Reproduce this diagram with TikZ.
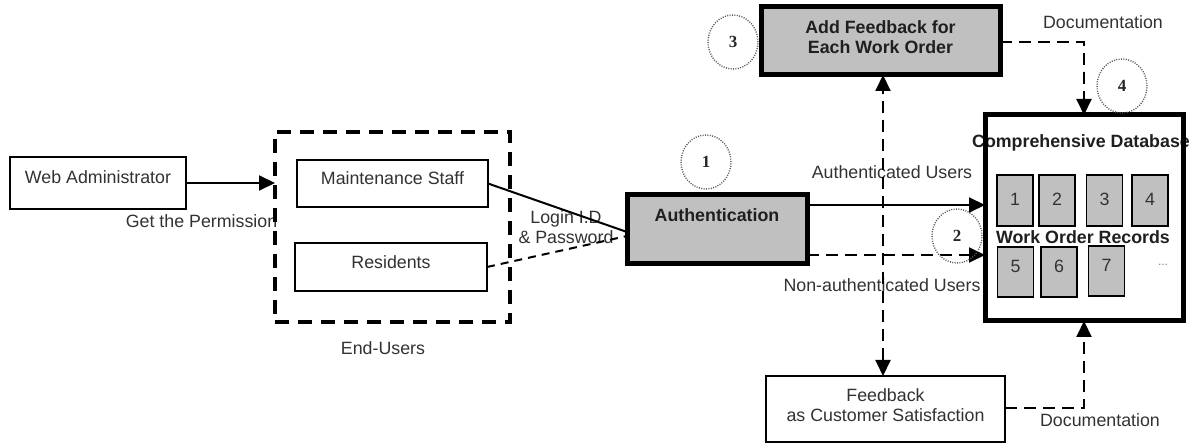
\documentclass[tikz,border=0pt]{standalone}
\usepackage{fontspec}
\setmainfont{Liberation Sans}
\newfontfamily\numfont{Liberation Serif}
\usetikzlibrary{arrows.meta,shapes.geometric,calc}
\definecolor{boxgray}{RGB}{192,192,192}
\definecolor{inkgray}{RGB}{50,50,50}
\definecolor{ringgray}{RGB}{85,85,85}

\begin{document}
\begin{tikzpicture}[x=1pt,y=-1pt,
  every node/.style={inner sep=0pt, outer sep=0pt},
  txt/.style={font=\fontsize{17.8}{20}\selectfont, text=inkgray, align=center},
  btxt/.style={font=\fontsize{17.8}{20}\selectfont\bfseries, text=black!88, align=center},
  plainbox/.style={draw, line width=2pt, fill=white},
  heavybox/.style={draw, line width=5pt, fill=boxgray},
  recbox/.style={draw, line width=1.8pt, fill=boxgray, minimum width=36pt},
  groupbox/.style={draw, line width=4pt, dash pattern=on 14pt off 9pt},
  ring/.style={draw=ringgray, ellipse, line width=1.4pt, dash pattern=on 1pt off 1.4pt,
    minimum width=50pt, minimum height=54pt, text=black!85,
    font=\numfont\bfseries\fontsize{17}{17}\selectfont},
  link/.style={line width=2pt},
  dlink/.style={line width=2pt, dash pattern=on 12pt off 7pt},
  tip/.style={-{Triangle[length=16pt,width=15pt]}},
  tips/.style={{Triangle[length=16pt,width=15pt]}-{Triangle[length=16pt,width=15pt]}},
]
\useasboundingbox (0,0) rectangle (1192,446);

% free-standing labels (lines and borders are drawn over them)
\node[txt] (permtxt) at (201.5,221) {Get the Permission};
\node[txt] (logintxt) at (566,227.5) {Login I.D\\\& Password};
\node[txt] (authtxt) at (892,172) {Authenticated Users};
\node[txt] (nonauthtxt) at (882,285) {Non-authenticated Users};
\node[btxt] (dbtxt) at (1081,143) {Comprehensive Database};
\node[btxt] (wortxt) at (1083,237) {Work Order Records};
\node[txt] (endtxt) at (383,348) {End-Users};
\node[txt] (doctop) at (1103,22) {Documentation};
\node[txt] (docbot) at (1100,420) {Documentation};

% actors and user group
\node[plainbox, minimum width=176pt, minimum height=52pt,
  label={[txt,yshift=6pt]center:Web Administrator}] (webadmin) at (98,183) {};
\node[groupbox, minimum width=235pt, minimum height=190pt] (endusers) at (392.5,227) {};
\node[plainbox, minimum width=191pt, minimum height=47pt,
  label={[txt,yshift=5.5pt]center:Maintenance Staff}] (staff) at (392.5,183.5) {};
\node[plainbox, minimum width=192pt, minimum height=48pt,
  label={[txt,yshift=5pt]center:Residents}] (residents) at (391,267) {};

% process steps
\node[heavybox, minimum width=180pt, minimum height=69pt,
  label={[btxt,yshift=14.5pt]center:Authentication}] (auth) at (717,229.5) {};
\node[heavybox, minimum width=239pt, minimum height=68pt,
  label={[btxt,yshift=4pt]center:Add Feedback for\\Each Work Order}] (addfb) at (880.5,41) {};
\node[plainbox, minimum width=239pt, minimum height=66pt,
  label={[txt,yshift=4pt]center:Feedback\\as Customer Satisfaction}] (fb) at (885.5,409) {};

% database with its work order records
\node[draw, line width=5pt, minimum width=198pt, minimum height=206pt] (db) at (1084,218) {};
\foreach \n/\x/\y/\h/\l in {1/1015/200.5/51/1.5, 2/1057/200.5/51/1.5, 3/1104.5/200.5/51/1.5, 4/1150/200.5/51/1.5,
                            5/1015.5/272/50/6, 6/1059/272/50/6, 7/1106.5/271/50/6}
  \node[recbox, minimum height=\h pt, label={[txt,yshift=\l pt]center:\n}] (rec\n) at (\x,\y) {};
\node[font=\fontsize{12}{12}\selectfont, text=gray] (more) at (1163,265) {...};

% connectors
\draw[link, tip] (webadmin.east) -- (webadmin.east -| endusers.west);
\draw[link] (staff.east) -- ($(auth.west)+(0,2.5)$);
\draw[link, dash pattern=on 8pt off 6pt] (residents.east) -- ($(auth.west)+(0,6.5)$);
\draw[link, tip] ($(auth.east)+(0,-24.5)$) coordinate (authout) -- (authout -| db.west);
\draw[dlink, tip] ($(auth.east)+(0,25.5)$) coordinate (nonout) -- (nonout -| db.west);
\coordinate (vx) at (883,229);
\draw[dlink, tips] (vx |- fb.north) -- (vx |- addfb.south);
\draw[dlink, tip] ($(addfb.east)+(0,1)$) -| (db.north);
\draw[dlink, tip] ($(fb.east)+(0,-1)$) -| (db.south);

% step markers
\node[ring] (s1) at (706,162) {1};
\node[ring] (s2) at (957,236) {2};
\node[ring] (s3) at (733,42) {3};
\node[ring] (s4) at (1122,86) {4};
\end{tikzpicture}
\end{document}
